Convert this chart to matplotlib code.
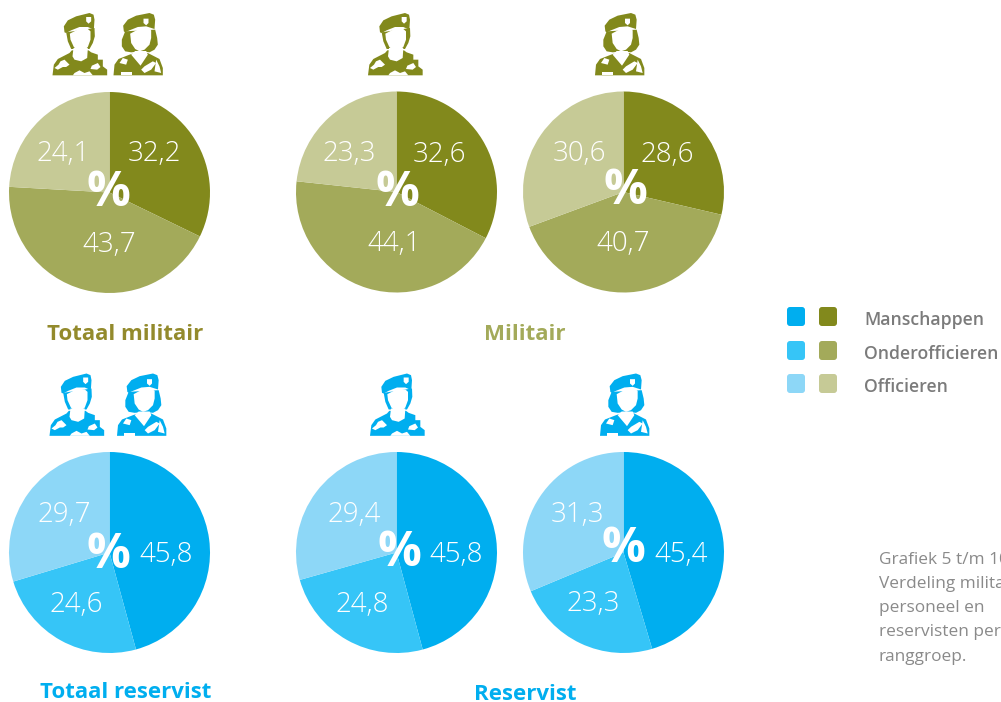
import matplotlib
matplotlib.use('Agg')
import matplotlib.pyplot as plt
from matplotlib.patches import Polygon, FancyBboxPatch

plt.rcParams['font.family'] = ['Open Sans', 'DejaVu Sans']

# values per pie, clockwise from the top: manschappen, onderofficieren, officieren
totaal_militair = [32.2, 43.7, 24.1]
militair_man = [32.6, 44.1, 23.3]
militair_vrouw = [28.6, 40.7, 30.6]
totaal_reservist = [45.8, 24.6, 29.7]
reservist_man = [45.8, 24.8, 29.4]
reservist_vrouw = [45.4, 23.3, 31.3]

legend_labels = ['Manschappen', 'Onderofficieren', 'Officieren']
side_text = ['Grafiek 5 t/m 10', 'Verdeling militair', 'personeel en',
             'reservisten per', 'ranggroep.']

olive = ['#82891c', '#a3aa5a', '#c6ca96']
blue = ['#00aeef', '#36c5f7', '#8dd7f7']
W, H = 1001, 702

fig = plt.figure(figsize=(W / 100, H / 100), dpi=100)
bg = fig.add_axes([0, 0, 1, 1])
bg.set_xlim(0, W)
bg.set_ylim(H, 0)
bg.axis('off')

# icon outlines, traced at 3x; first entry of each list is drawn first
MALE = {
    'origin': (14, 10),
    'col': [[(14, 197), (18, 165), (30, 148), (65, 130), (72, 122), (122, 122), (130, 128),
             (150, 135), (150, 150), (165, 150), (165, 170), (178, 180), (178, 197)],
            [(55, 68), (60, 95), (70, 118), (125, 118), (135, 100), (141, 80), (140, 55)]],
    'white': [[(66, 72), (95, 57), (120, 58), (128, 65), (128, 90), (120, 112), (105, 125),
               (92, 125), (78, 112), (68, 90)],
              [(77, 115), (120, 115), (118, 145), (100, 155), (80, 150), (74, 140)],
              [(38, 155), (50, 150), (65, 165), (55, 172), (45, 172), (30, 180), (20, 175), (32, 165)],
              [(75, 197), (80, 190), (95, 182), (110, 190), (125, 185), (135, 197)],
              [(132, 168), (150, 160), (158, 172), (148, 180), (128, 178)]],
    'beret': [(50, 68), (48, 50), (60, 32), (85, 20), (125, 10), (137, 15), (140, 30), (138, 60),
              (120, 52), (95, 52), (70, 62), (55, 70)],
    'badge': [(115, 22), (130, 22), (130, 35), (122, 42), (115, 35)],
}
FEMALE = {
    'origin': (197, 10),
    'col': [[(197, 197), (200, 165), (212, 148), (245, 135), (260, 130), (300, 130), (335, 148),
             (345, 175), (345, 197)],
            [(232, 65), (222, 90), (222, 110), (232, 125), (250, 128), (280, 125), (305, 128),
             (320, 120), (330, 105), (328, 85), (322, 60)]],
    'white': [[(250, 135), (262, 124), (295, 124), (300, 135), (278, 168)],
              [(247, 72), (275, 57), (300, 55), (310, 62), (310, 85), (305, 105), (290, 120),
               (275, 125), (262, 118), (250, 100)],
              [(225, 145), (240, 150), (235, 165), (215, 160)],
              [(218, 187), (252, 187), (252, 197), (218, 197)],
              [(290, 170), (315, 155), (325, 160), (310, 180), (290, 190), (280, 180)],
              [(325, 150), (335, 170), (340, 190), (320, 185)]],
    'beret': [(228, 65), (226, 48), (240, 30), (265, 18), (305, 10), (318, 15), (322, 30),
              (320, 58), (295, 50), (270, 52), (245, 62), (232, 68)],
    'badge': [(287, 27), (302, 27), (302, 40), (295, 47), (287, 40)],
}


# one soldier icon, x/y is the top left corner in pixels
def soldier(x, y, color, shape):
    ox, oy = shape['origin']

    def P(pts):
        return [(x + (a - ox) / 3, y + (b - oy) / 3) for a, b in pts]

    for pts in shape['col']:
        bg.add_patch(Polygon(P(pts), color=color, lw=0, zorder=4))
    for pts in shape['white']:
        bg.add_patch(Polygon(P(pts), color='white', lw=0, zorder=5))
    bg.add_patch(Polygon(P(shape['beret']), color=color, lw=0, zorder=6))
    bg.add_patch(Polygon(P(shape['badge']), color='white', lw=0, zorder=7))


pies = [
    (totaal_militair, olive, 109.5, 192.5, [(154, 154), (109, 245), (63, 154)], (108, 194)),
    (militair_man, olive, 396.5, 192, [(439, 155), (394, 244), (349, 154)], (397, 194)),
    (militair_vrouw, olive, 623.5, 192, [(667, 155), (623, 244), (579, 154)], (625, 191)),
    (totaal_reservist, blue, 109.5, 552.5, [(166, 555), (76, 605), (64, 515)], (108, 555)),
    (reservist_man, blue, 396.5, 552.5, [(456, 555), (362, 605), (354, 515)], (399, 553)),
    (reservist_vrouw, blue, 623.5, 552.5, [(681, 555), (593, 604), (577, 515)], (623, 550)),
]
R = 100.5

for vals, cols, cx, cy, lab_pos, pct_pos in pies:
    ax = fig.add_axes([(cx - R) / W, 1 - (cy + R) / H, 2 * R / W, 2 * R / H])
    ax.pie(vals, colors=cols, startangle=90, counterclock=False, radius=1,
           wedgeprops={'linewidth': 0})
    ax.set_xlim(-1, 1)
    ax.set_ylim(-1, 1)
    for v, (px, py) in zip(vals, lab_pos):
        fig.text(px / W, 1 - py / H, f'{v:.1f}'.replace('.', ','), color='white',
                 fontsize=20, fontweight='light', ha='center', va='center', zorder=10)
    fig.text(pct_pos[0] / W, 1 - pct_pos[1] / H, '%', color='white', fontsize=35,
             fontweight='bold', ha='center', va='center', zorder=10)

# icons
for x, shape in [(52.5, MALE), (113.5, FEMALE), (368, MALE), (595, FEMALE)]:
    soldier(x, 13, olive[0], shape)
for x, shape in [(49.5, MALE), (117, FEMALE), (370, MALE), (600, FEMALE)]:
    soldier(x, 373.5, blue[0], shape)

# titles
title_style = dict(fontsize=16, fontweight='bold', ha='center', va='center')
bg.text(125, 334, 'Totaal militair', color='#938a2c', **title_style)
bg.text(525, 335, 'Militair', color='#a3aa5a', **title_style)
bg.text(126, 693, 'Totaal reservist', color=blue[0], **title_style)
bg.text(525, 694, 'Reservist', color=blue[0], **title_style)

# legend
for lab, c1, c2, y in zip(legend_labels, blue, olive, [307, 341, 374]):
    for x, c in [(787, c1), (819, c2)]:
        bg.add_patch(FancyBboxPatch((x + 2, y + 2), 14, 15, boxstyle='round,pad=2,rounding_size=3',
                                    color=c, lw=0))
    bg.text(864, y + 13, lab, color='#7b7b7b', fontsize=12.7, fontweight='semibold',
            ha='left', va='center')

# side text
for line, y in zip(side_text, [560, 584, 608, 632, 657]):
    bg.text(879, y, line, color='#8a8a8a', fontsize=12.4, ha='left', va='center')

fig.savefig('out.png', dpi=100)
